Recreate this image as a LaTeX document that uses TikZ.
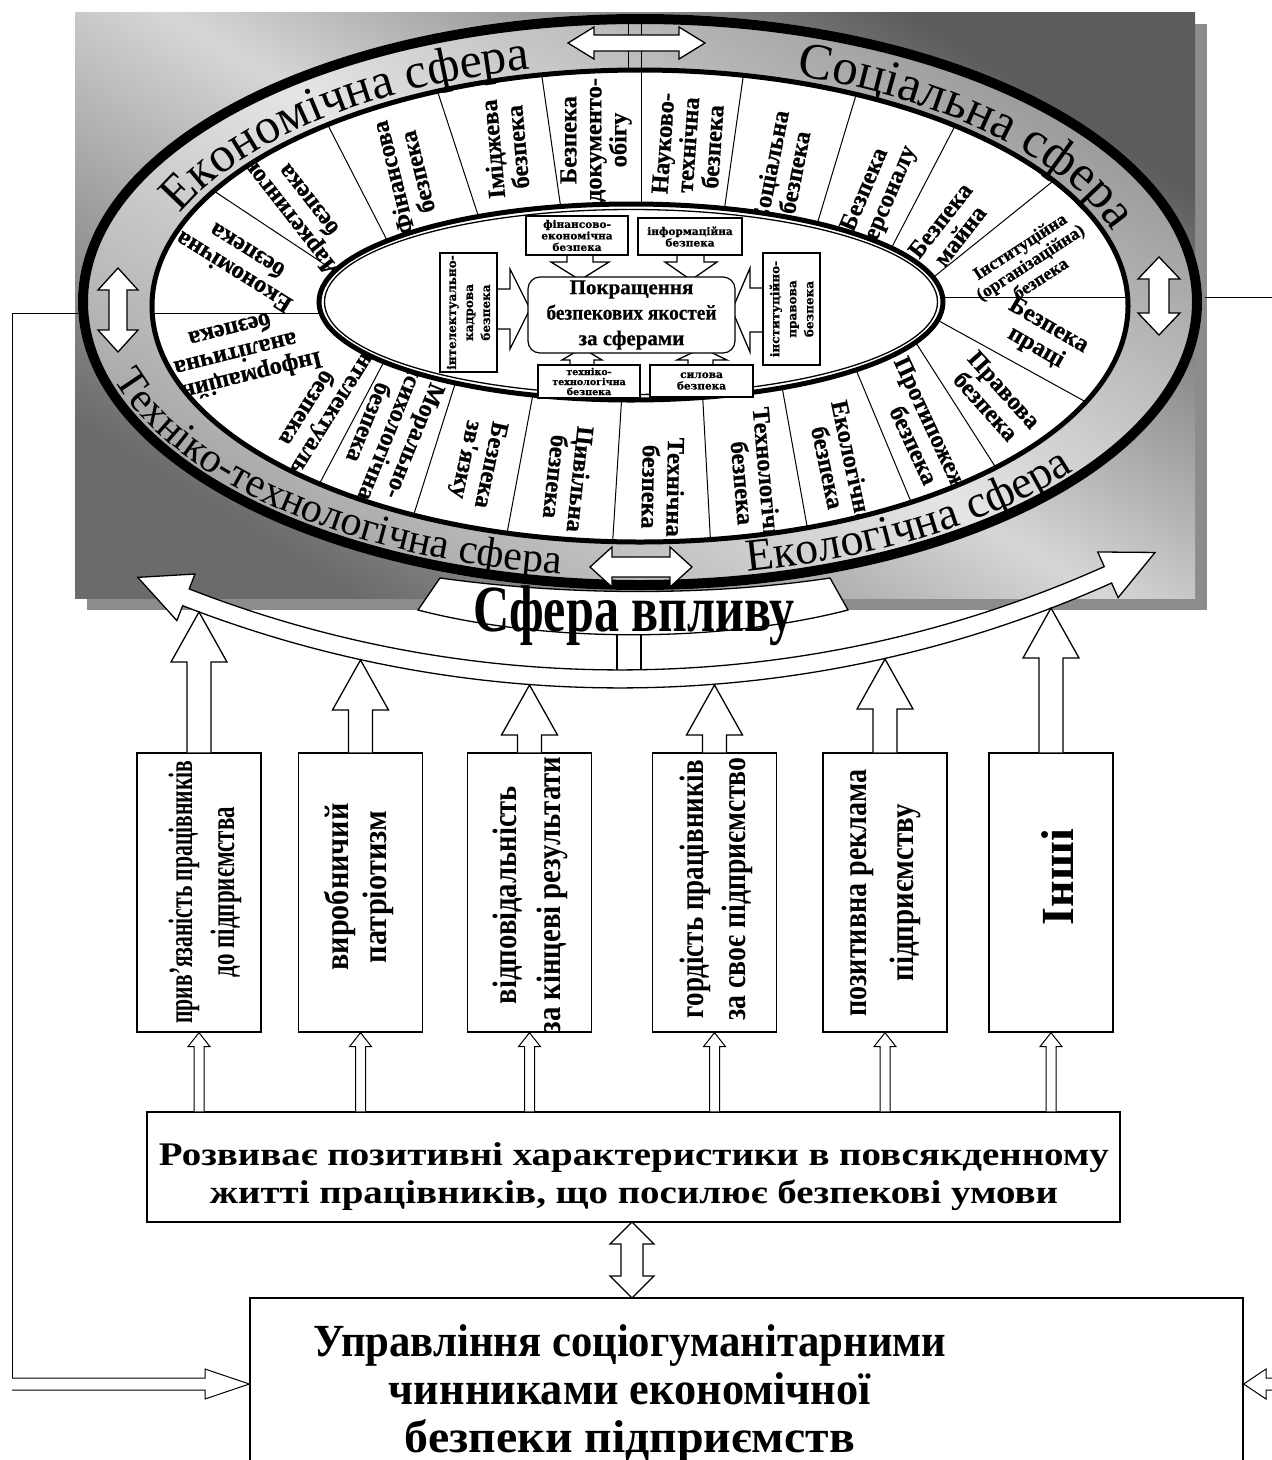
\documentclass[tikz,border=0pt]{standalone}
\usepackage{fontspec}
\setmainfont{Liberation Serif}
\newfontfamily\heavy{Liberation Serif}[BoldFeatures={FakeBold=0.6}]
\newfontfamily\dvs{DejaVu Serif}[BoldFeatures={FakeBold=0.8}]
\usetikzlibrary{calc,decorations.text}
\newcommand\fw[2]{\resizebox{#1pt}{\height}{#2}}
\newcommand\uparr[3]{%
\draw[blk] let \p1=(#1.north) in (\x1-12pt,\y1) -- (\x1-12pt,-#2pt-#3pt) -- (\x1-28pt,-#2pt-#3pt) -- (\x1,-#2pt) -- (\x1+28pt,-#2pt-#3pt) -- (\x1+12pt,-#2pt-#3pt) -- (\x1+12pt,\y1);}
\newcommand\smallup[2]{%
\draw[blk, line width=1pt] let \p1=(#1.south), \p2=(#2.north) in (\x1-5pt,\y2) -- (\x1-5pt,\y1-14pt) -- (\x1-11pt,\y1-14pt) -- (\x1,\y1) -- (\x1+11pt,\y1-14pt) -- (\x1+5pt,\y1-14pt) -- (\x1+5pt,\y2);}
\begin{document}
\begin{tikzpicture}[x=1pt,y=1pt,
  blk/.style={draw=black, fill=white, line width=1.3pt, line join=miter},
  sect/.style={font=\heavy\fontsize{24.5}{25}\selectfont\bfseries, align=center, inner sep=0pt},
  sdiv/.style={line width=1pt},
  sbox/.style={draw, line width=1.2pt, fill=white, inner sep=0pt, align=center, font=\dvs\bfseries\fontsize{10.5}{11.5}\selectfont},
  vbox/.style={draw, line width=1.3pt, fill=white, minimum width=124pt, minimum height=279pt, inner sep=0pt},
  vtext/.style={rotate=90, align=center, inner sep=0pt, font=\fontsize{34}{42}\selectfont\bfseries},
  conn/.style={line width=1pt},
]
\path[use as bounding box] (0,0) rectangle (1272,-1460);
\clip (0,0) rectangle (1272,-1460);

% background panel with shadow
\fill[black!45] (87,-24) rectangle (1207,-610);
\shade[top color=black!64, bottom color=black!58, middle color=black!16, shading angle=-32] (75,-12) rectangle (1195,-598);

% outer band
\fill[white, opacity=0.38, even odd rule] (640,-302) ellipse [x radius=562, y radius=288] (640,-306) ellipse [x radius=488, y radius=236];
\draw[line width=10pt] (640,-302) ellipse [x radius=557, y radius=283];
\draw[line width=0.9pt] (628,-20) -- (628,-72) (641,-20) -- (641,-72);

% white annulus with sector dividers and labels
\fill[white] (640,-306) ellipse [x radius=488, y radius=236];
\begin{scope}
\clip (640,-306) ellipse [x radius=488, y radius=236];
\foreach \xa/\ya/\xb/\yb in {318/313/152/313, 330/268/220/195, 390/246/334/137, 479/218/441/102, 561/209/543/84, 641/222/641/88, 722/226/741/92, 812/241/850/115, 882/266/944/147, 940/272/1042/190, 945/297/1128/297, 950/327/1086/402, 925/357/998/471, 864/389/914/509, 786/409/809/537, 704/421/711/550, 620/425/612/552, 530/410/508/528, 450/400/413/517, 378/373/323/477}
  \draw[sdiv] ($(\xa,-\ya)!-0.5!(\xb,-\yb)$) -- ($(\xa,-\ya)!1.8!(\xb,-\yb)$);
\node[sect, rotate=148] (s1) at (240,-262) {Економічна\\безпека};
\node[sect, rotate=128] (s2) at (298,-208) {Маркетингова\\безпека};
\node[sect, rotate=104] (s3) at (405,-175) {Фінансова\\безпека};
\node[sect, rotate=95] (s4) at (505,-148) {Іміджева\\безпека};
\node[sect, rotate=90] (s5) at (596,-140) {Безпека\\документо-\\обігу};
\node[sect, rotate=86] (s6) at (688,-145) {Науково-\\технічна\\безпека};
\node[sect, rotate=79] (s7) at (782,-170) {Соціальна\\безпека};
\node[sect, rotate=67] (s8) at (877,-195) {Безпека\\персоналу};
\node[sect, rotate=52] (s9) at (950,-228) {Безпека\\майна};
\node[sect, rotate=33, font=\heavy\fontsize{18}{19}\selectfont\bfseries] (s10) at (1030,-262) {Інституційна\\(організаційна)\\безпека};
\node[sect, rotate=-30] (s11) at (1042,-337) {Безпека\\праці};
\node[sect, rotate=-48] (s12) at (995,-398) {Правова\\безпека};
\node[sect, rotate=-65] (s13) at (925,-440) {Протипожежна\\безпека};
\node[sect, rotate=-78] (s14) at (840,-465) {Екологічна\\безпека};
\node[sect, rotate=-85] (s15) at (755,-482) {Технологічна\\безпека};
\node[sect, rotate=-91] (s16) at (663,-487) {Технічна\\безпека};
\node[sect, rotate=-96] (s17) at (568,-478) {Цивільна\\безпека};
\node[sect, rotate=-102] (s18) at (477,-462) {Безпека\\зв'язку};
\node[sect, rotate=-112] (s19) at (392,-432) {Морально-\\психологічна\\безпека};
\node[sect, rotate=-122] (s20) at (318,-415) {Інтелектуальна\\безпека};
\node[sect, rotate=194] (s21) at (236,-355) {Інформаційно-\\аналітична\\безпека};
\end{scope}

\draw[line width=5pt] (640,-306) ellipse [x radius=488, y radius=236];

% central ellipse
\draw[line width=5pt, fill=white] (631,-302) ellipse [x radius=312, y radius=98];
\draw[line width=1.3pt] (631,-302) ellipse [x radius=306.5, y radius=92.5];

% inner arrows
\draw[blk] (567,-255) -- (567,-262) -- (551,-262) -- (580,-280) -- (609,-262) -- (593,-262) -- (593,-255);
\draw[blk] (677,-255) -- (677,-262) -- (665,-262) -- (691,-280) -- (717,-262) -- (704,-262) -- (704,-255);
\draw[blk] (497,-289) -- (510,-289) -- (510,-269) -- (530,-309) -- (510,-349) -- (510,-329) -- (497,-329);
\draw[blk] (763,-288) -- (750,-288) -- (750,-268) -- (732,-310) -- (750,-352) -- (750,-332) -- (763,-332);
\draw[blk] (570,-365) -- (570,-360) -- (562,-360) -- (582,-348) -- (602,-360) -- (594,-360) -- (594,-365);
\draw[blk] (688,-365) -- (688,-360) -- (677,-360) -- (702,-348) -- (727,-360) -- (713,-360) -- (713,-365);

\node[draw, line width=1.2pt, rounded corners=12pt, fill=white, minimum width=207pt, minimum height=76pt, inner sep=0pt, align=center, font=\heavy\fontsize{21}{25.5}\selectfont\bfseries] (core) at (631.5,-315) {Покращення\\\fw{170}{безпекових якостей}\\за сферами};

\node[sbox, minimum width=102pt, minimum height=39pt] (fe) at (577,-235.5) {фінансово-\\економічна\\безпека};
\node[sbox, minimum width=104pt, minimum height=37pt] (inf) at (690,-236.5) {інформаційна\\безпека};
\node[sbox, rotate=90, minimum width=119pt, minimum height=57pt, font=\dvs\bfseries\fontsize{12}{17}\selectfont] (ik) at (468.5,-312.5) {інтелектуально-\\кадрова\\безпека};
\node[sbox, rotate=90, minimum width=112pt, minimum height=57pt, font=\dvs\bfseries\fontsize{12}{17}\selectfont] (ip) at (791.5,-309) {інституційно-\\правова\\безпека};
\node[sbox, minimum width=102pt, minimum height=33pt, font=\dvs\bfseries\fontsize{9.5}{10}\selectfont] (tt) at (589,-381.5) {техніко-\\технологічна\\безпека};
\node[sbox, minimum width=103pt, minimum height=32pt] (sl) at (701.5,-381) {силова\\безпека};

% band texts
\path[decorate, decoration={text along path, text align=center, text={|\fontsize{50}{50}\selectfont|Економічна сфера}}] (640,-306) ++(168:497 and 243) arc[start angle=168, end angle=97, x radius=497, y radius=243];
\path[decorate, decoration={text along path, text align=center, text={|\fontsize{51}{51}\selectfont|Соціальна сфера}}] (640,-306) ++(78:497 and 243) arc[start angle=78, end angle=6, x radius=497, y radius=243];
\path[decorate, decoration={text along path, text align=center, text={|\fontsize{42}{42}\selectfont|Техніко-технологічна сфера}}] (640,-303) ++(188:548 and 274) arc[start angle=188, end angle=266, x radius=548, y radius=274];
\path[decorate, decoration={text along path, text align=center, text={|\fontsize{46}{46}\selectfont|Екологічна сфера}}] (640,-303) ++(276:548 and 274) arc[start angle=276, end angle=330, x radius=548, y radius=274];

% double arrows on the band
\draw[blk] (118,-268) -- (138,-290) -- (127,-290) -- (127,-330) -- (138,-330) -- (118,-352) -- (98,-330) -- (109,-330) -- (109,-290) -- (98,-290) -- cycle;
\draw[blk] (1159,-257) -- (1180,-279) -- (1169,-279) -- (1169,-313) -- (1180,-313) -- (1159,-335) -- (1138,-313) -- (1149,-313) -- (1149,-279) -- (1138,-279) -- cycle;
\draw[blk] (568,-43) -- (594,-27) -- (594,-35) -- (679,-35) -- (679,-27) -- (705,-43) -- (679,-59) -- (679,-51) -- (594,-51) -- (594,-59) -- cycle;
\draw[blk] (590,-567) -- (612,-547) -- (612,-557) -- (670,-557) -- (670,-547) -- (692,-567) -- (670,-587) -- (670,-577) -- (612,-577) -- (612,-587) -- cycle;

% sphere of influence: stem, arc arrow, banner
\coordinate (C) at (620,516);
\draw[blk] (617,-628) rectangle (641,-672);
\draw[blk] ($(C)+(-111.3:1220)$) -- ($(C)+(-113.8:1195)$) -- ($(C)+(-111.3:1170)$) -- ($(C)+(-111.3:1186)$) arc[start angle=-111.3, end angle=-65.9, radius=1186] -- ($(C)+(-65.9:1170)$) -- ($(C)+(-63.4:1195)$) -- ($(C)+(-65.9:1220)$) -- ($(C)+(-65.9:1204)$) arc[start angle=-65.9, end angle=-111.3, radius=1204] -- cycle;
\draw[blk] (440,-578) .. controls (570,-596) and (710,-596) .. (830,-578) -- (848,-610) .. controls (720,-643) and (545,-643) .. (418,-610) -- cycle;
\node[anchor=base, inner sep=0pt, font=\fontsize{66}{66}\selectfont\bfseries] (sv) at (634,-631) {\fw{322}{Сфера впливу}};

% six factor boxes
\node[vbox] (b1) at (199,-892.5) {};
\node[vbox] (b2) at (360.5,-892.5) {};
\node[vbox] (b3) at (529.5,-892.5) {};
\node[vbox] (b4) at (714.5,-892.5) {};
\node[vbox] (b5) at (885,-892.5) {};
\node[vbox] (b6) at (1051,-892.5) {};
\node[vtext] (t1) at (205,-892) {\fw{263}{прив'язаність працівників}\\\fw{170}{до підприємства}};
\node[vtext, font=\fontsize{34}{38}\selectfont\bfseries] (t2) at (359,-887) {\fw{167}{виробничий}\\\fw{152}{патріотизм}};
\node[vtext, font=\fontsize{34}{44}\selectfont\bfseries] (t3) at (530,-895) {\fw{218}{відповідальність}\\\fw{277}{за кінцеві результати}};
\node[vtext] (t4) at (716,-889) {\fw{258}{гордість працівників}\\\fw{263}{за своє підприємство}};
\node[vtext, font=\fontsize{34}{47}\selectfont\bfseries] (t5) at (886,-893) {\fw{247}{позитивна реклама}\\\fw{177}{підприємству}};
\node[vtext, font=\fontsize{46}{46}\selectfont\bfseries] (t6) at (1058,-877) {Інші};

\uparr{b1}{612}{50}
\uparr{b2}{660}{50}
\uparr{b3}{685}{50}
\uparr{b4}{685}{50}
\uparr{b5}{659}{50}
\uparr{b6}{608}{50}

% development box
\node[draw, line width=1.3pt, minimum width=973pt, minimum height=110pt, inner sep=0pt] (dev) at (633.5,-1167) {};
\node[align=center, inner sep=0pt, font=\fontsize{33}{38}\selectfont\bfseries] (devT) at (634,-1177) {\fw{950}{Розвиває позитивні характеристики в повсякденному}\\\fw{848}{житті працівників, що посилює безпекові умови}};
\foreach \b in {b1,b2,b3,b4,b5,b6} {\smallup{\b}{dev}}

% management box
\node[draw, line width=1.3pt, minimum width=993pt, minimum height=172pt, inner sep=0pt] (mgmt) at (746.5,-1384) {};
\node[align=center, inner sep=0pt, font=\fontsize{46}{48}\selectfont\bfseries] (mgmtT) at (630,-1393) {\fw{633}{Управління соціогуманітарними}\\\fw{482}{чинниками економічної}\\\fw{450}{безпеки підприємств}};

\draw[blk] (632,-1222) -- (654,-1244) -- (643,-1244) -- (643,-1276) -- (654,-1276) -- (632,-1298) -- (610,-1276) -- (621,-1276) -- (621,-1244) -- (610,-1244) -- cycle;

% feedback connectors
\coordinate (ellW) at (78,-313);
\coordinate (ellE) at (1205,-297);
\draw[conn] (ellW) -- (12,-313) -- (12,-1378);
\draw[blk, line width=1pt] (12,-1378) -- (205,-1378) -- (205,-1369) -- (mgmt.west) -- (205,-1399) -- (205,-1390) -- (12,-1390);
\draw[conn] (ellE) -- (1280,-297);
\draw[blk, line width=1pt] (1290,-1378) -- (1266,-1378) -- (1266,-1369) -- (mgmt.east) -- (1266,-1399) -- (1266,-1390) -- (1290,-1390);
\end{tikzpicture}
\end{document}
